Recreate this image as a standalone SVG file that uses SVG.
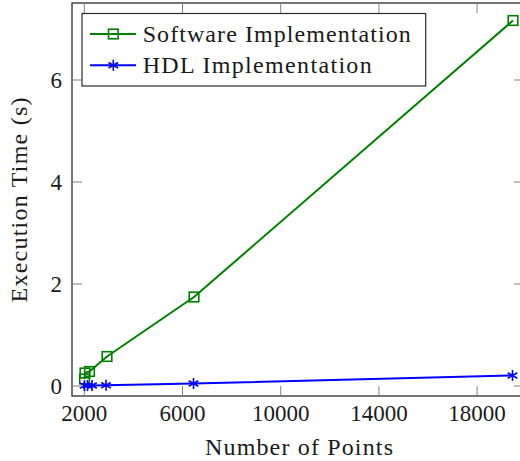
<svg xmlns="http://www.w3.org/2000/svg" width="520" height="461" viewBox="0 0 520 461">
  <style>
    text { fill: #1a1a1a; }
    .tick-label { font-size: 23px; }
    .label { font-size: 24px; }
    .tick { stroke: #808080; stroke-width: 1; }
    .frame { fill: none; stroke: #2b2b2b; stroke-width: 1.3; }
    .sw { fill: none; stroke: #008000; stroke-width: 2; stroke-linejoin: round; }
    .hdl { fill: none; stroke: #0000ff; stroke-width: 2; stroke-linejoin: round; }
    .sq { fill: none; stroke: #008000; stroke-width: 1.6; }
    .star { stroke: #0000ff; stroke-width: 1.6; }
  </style>
  <defs>
    <g id="mark-square">
      <rect x="-4.8" y="-4.8" width="9.6" height="9.6"/>
    </g>
    <g id="mark-star">
      <line x1="0" y1="-5.5" x2="0" y2="5.5"/>
      <line x1="-4.8" y1="-2.75" x2="4.8" y2="2.75"/>
      <line x1="-4.8" y1="2.75" x2="4.8" y2="-2.75"/>
    </g>
  </defs>

  <!-- axis frame and ticks -->
  <g id="axes" font-family="Liberation Serif, DejaVu Serif, serif">
    <rect class="frame" x="72" y="3" width="452" height="393"/>
    <g class="tick">
      <!-- x ticks: 2000, 6000, 10000, 14000, 18000 -->
      <line x1="84.3" y1="396" x2="84.3" y2="386"/>
      <line x1="182.5" y1="396" x2="182.5" y2="386"/>
      <line x1="280.7" y1="396" x2="280.7" y2="386"/>
      <line x1="378.9" y1="396" x2="378.9" y2="386"/>
      <line x1="477.1" y1="396" x2="477.1" y2="386"/>
      <line x1="84.3" y1="3" x2="84.3" y2="13"/>
      <line x1="182.5" y1="3" x2="182.5" y2="13"/>
      <line x1="280.7" y1="3" x2="280.7" y2="13"/>
      <line x1="378.9" y1="3" x2="378.9" y2="13"/>
      <line x1="477.1" y1="3" x2="477.1" y2="13"/>
      <!-- y ticks: 0, 2, 4, 6 -->
      <line x1="72" y1="386" x2="82" y2="386"/>
      <line x1="72" y1="284" x2="82" y2="284"/>
      <line x1="72" y1="182" x2="82" y2="182"/>
      <line x1="72" y1="80" x2="82" y2="80"/>
      <line x1="524" y1="386" x2="514" y2="386"/>
      <line x1="524" y1="284" x2="514" y2="284"/>
      <line x1="524" y1="182" x2="514" y2="182"/>
      <line x1="524" y1="80" x2="514" y2="80"/>
    </g>
    <g class="tick-label" text-anchor="middle">
      <text x="84.3" y="421">2000</text>
      <text x="182.5" y="421">6000</text>
      <text x="280.7" y="421">10000</text>
      <text x="378.9" y="421">14000</text>
      <text x="477.1" y="421">18000</text>
    </g>
    <g class="tick-label" text-anchor="end">
      <text x="62" y="394">0</text>
      <text x="62" y="292">2</text>
      <text x="62" y="190">4</text>
      <text x="62" y="88">6</text>
    </g>
    <text class="label" x="299" y="455" text-anchor="middle" textLength="188">Number of Points</text>
    <text class="label" transform="translate(27 200) rotate(-90)" text-anchor="middle" textLength="205">Execution Time (s)</text>
  </g>

  <!-- data series -->
  <g id="connectors">
    <polyline class="sw" points="84.5,379 85,373 89.5,371.5 107,356.5 194,297 513,20.5"/>
    <polyline class="hdl" points="84.5,385.6 87.5,385.6 92,385.5 106,385.3 193.5,383.5 512.5,375.5"/>
  </g>

  <g id="software-series" class="sq">
    <use href="#mark-square" x="84.5" y="379"/>
    <use href="#mark-square" x="85" y="373"/>
    <use href="#mark-square" x="89.5" y="371.5"/>
    <use href="#mark-square" x="107" y="356.5"/>
    <use href="#mark-square" x="194" y="297"/>
    <use href="#mark-square" x="513" y="20.5"/>
  </g>

  <g id="hdl-series" class="star">
    <use href="#mark-star" x="84.5" y="385.6"/>
    <use href="#mark-star" x="87.5" y="385.6"/>
    <use href="#mark-star" x="92" y="385.5"/>
    <use href="#mark-star" x="106" y="385.3"/>
    <use href="#mark-star" x="193.5" y="383.5"/>
    <use href="#mark-star" x="512.5" y="375.5"/>
  </g>

  <!-- legend -->
  <g id="legend" font-family="Liberation Serif, DejaVu Serif, serif">
    <rect x="82" y="13.5" width="343.7" height="72.5" fill="#ffffff" stroke="#2b2b2b" stroke-width="1.2"/>
    <line class="sw" x1="90" y1="34" x2="136" y2="34"/>
    <use class="sq" href="#mark-square" x="113.3" y="34"/>
    <text class="label" x="142.7" y="42" textLength="268">Software Implementation</text>
    <line class="hdl" x1="90" y1="65.3" x2="136" y2="65.3"/>
    <use class="star" href="#mark-star" x="113.3" y="65.3"/>
    <text class="label" x="142.7" y="73.3" textLength="229">HDL Implementation</text>
  </g>
</svg>
